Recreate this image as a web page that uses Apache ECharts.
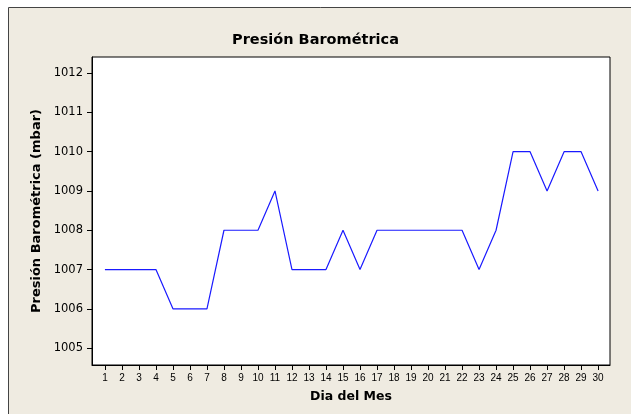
<!DOCTYPE html>
<html>
<head>
<meta charset="utf-8">
<script src="https://cdn.jsdelivr.net/npm/echarts@6/dist/echarts.min.js"></script>
<style>
    html, body { margin: 0; padding: 0; background: #fff; }
    #chart { width: 631px; height: 414px; }
</style>
</head>
<body>
<div id="chart"></div>
<script>
// dia del mes y presion (mbar)
const dias = [1, 2, 3, 4, 5, 6, 7, 8, 9, 10, 11, 12, 13, 14, 15, 16, 17, 18, 19, 20, 21, 22, 23, 24, 25, 26, 27, 28, 29, 30];
const presion = [1007, 1007, 1007, 1007, 1006, 1006, 1006, 1008, 1008, 1008, 1009, 1007, 1007, 1007, 1008, 1007, 1008, 1008, 1008, 1008, 1008, 1008, 1007, 1008, 1010, 1010, 1009, 1010, 1010, 1009];
const yTicks = [1005, 1006, 1007, 1008, 1009, 1010, 1011, 1012];

const labelFont = 'Liberation Sans';
const boldFont = 'DejaVu Sans';

function load() {
    echarts.init(document.getElementById('chart')).setOption({
        animation: false,
        backgroundColor: '#fff',
        graphic: [
            {
                type: 'rect',
                z: -10,
                shape: { x: 8.5, y: 7.5, width: 700, height: 500 },
                style: { fill: '#EFEBE1', stroke: '#444', lineWidth: 1 }
            }
        ],
        title: {
            text: 'Presión Barométrica',
            left: 'center',
            top: 28,
            textStyle: { fontFamily: boldFont, fontSize: 14.5, fontWeight: 'bold', color: '#000' }
        },
        grid: {
            left: 92,
            top: 57,
            right: 21,
            bottom: 49,
            show: true,
            backgroundColor: '#fff',
            borderColor: '#000',
            borderWidth: 1
        },
        xAxis: {
            type: 'value',
            min: 0.24,
            max: 30.7,
            name: 'Dia del Mes',
            nameLocation: 'middle',
            nameGap: 25,
            nameTextStyle: { fontFamily: boldFont, fontSize: 12.5, fontWeight: 'bold', color: '#000' },
            splitLine: { show: false },
            axisLine: { lineStyle: { color: '#000' } },
            axisTick: { length: 5, lineStyle: { color: '#000' }, customValues: dias },
            axisLabel: {
                customValues: dias,
                margin: 8,
                fontFamily: labelFont,
                fontSize: 10,
                color: '#000',
                formatter: v => String(v)
            }
        },
        yAxis: {
            type: 'value',
            min: 1004.57,
            max: 1012.41,
            name: 'Presión Barométrica (mbar)',
            nameLocation: 'middle',
            nameGap: 48,
            nameTextStyle: { fontFamily: boldFont, fontSize: 13, fontWeight: 'bold', color: '#000' },
            splitLine: { show: false },
            axisLine: { show: true, lineStyle: { color: '#000' } },
            axisTick: { show: true, length: 5, lineStyle: { color: '#000' }, customValues: yTicks },
            axisLabel: {
                customValues: yTicks,
                margin: 9,
                fontFamily: 'DejaVu Sans',
                fontSize: 11.5,
                color: '#000',
                formatter: v => String(v)
            }
        },
        series: [
            {
                type: 'line',
                data: dias.map((d, i) => [d, presion[i]]),
                showSymbol: false,
                lineStyle: { color: '#1a1aff', width: 1.2 }
            }
        ]
    });
}

load();
</script>
</body>
</html>
